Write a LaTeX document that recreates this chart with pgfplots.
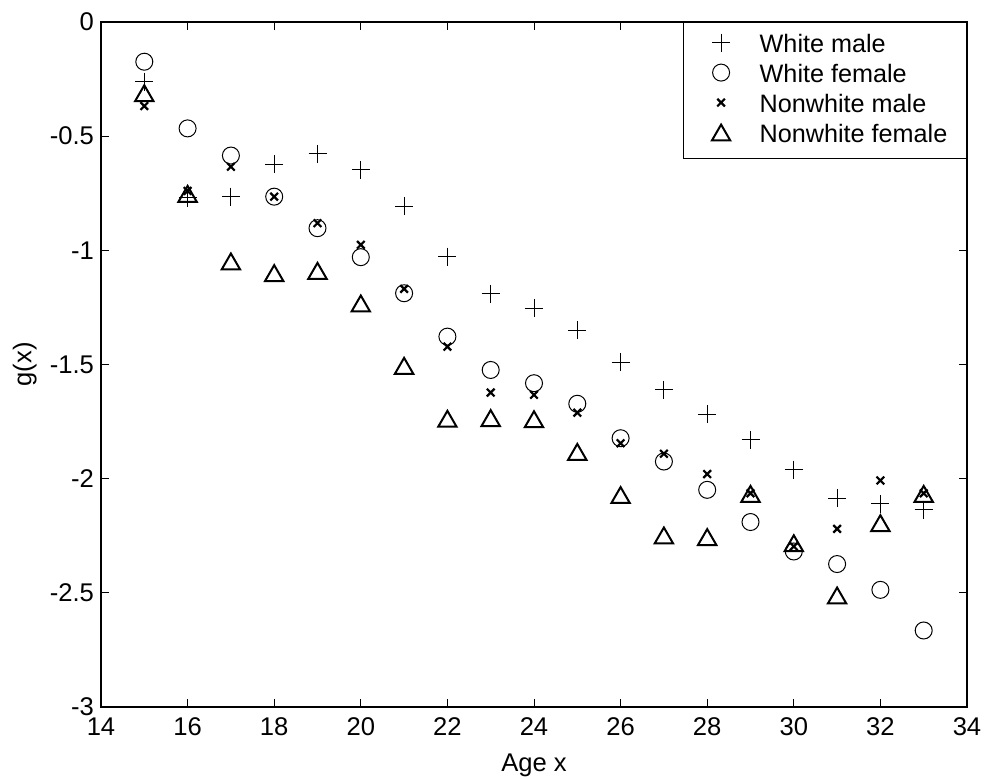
\documentclass[border=0pt]{standalone}
\usepackage{fontspec}
\setmainfont{Liberation Sans}
\usepackage{pgfplots}
\usepackage{pgfplotstable}
\pgfplotsset{compat=1.18}
\pgfplotstableread{
x y
15 -0.261
16 -0.770
17 -0.765
18 -0.622
19 -0.578
20 -0.648
21 -0.806
22 -1.028
23 -1.191
24 -1.254
25 -1.349
26 -1.490
27 -1.611
28 -1.719
29 -1.830
30 -1.961
31 -2.086
32 -2.110
33 -2.137
}\wm
\pgfplotstableread{
x y
15 -0.174
16 -0.466
17 -0.585
18 -0.765
19 -0.903
20 -1.030
21 -1.188
22 -1.378
23 -1.524
24 -1.582
25 -1.672
26 -1.823
27 -1.925
28 -2.049
29 -2.190
30 -2.319
31 -2.374
32 -2.487
33 -2.665
}\wf
\pgfplotstableread{
x y
15 -0.368
16 -0.740
17 -0.634
18 -0.765
19 -0.881
20 -0.976
21 -1.169
22 -1.422
23 -1.623
24 -1.633
25 -1.711
26 -1.845
27 -1.891
28 -1.980
29 -2.064
30 -2.297
31 -2.220
32 -2.008
33 -2.064
}\nm
\pgfplotstableread{
x y
15 -0.312
16 -0.753
17 -1.049
18 -1.100
19 -1.090
20 -1.233
21 -1.506
22 -1.738
23 -1.735
24 -1.740
25 -1.883
26 -2.072
27 -2.249
28 -2.256
29 -2.067
30 -2.283
31 -2.512
32 -2.195
33 -2.067
}\nf
\pgfplotsset{lg/.style={legend image code/.code={\path (0pt,1.5pt) (18pt,1.5pt);\draw[mark repeat=2,mark phase=2,##1] plot coordinates {(0pt,1.5pt)(9pt,1.5pt)(18pt,1.5pt)};}}}
\begin{document}
\begin{tikzpicture}
\begin{axis}[
  name=ax, at={(0,0)}, anchor=south west,
  scale only axis, width=433pt, height=342.5pt,
  xmin=14, xmax=34, ymin=-3, ymax=0,
  xtick={14,16,18,20,22,24,26,28,30,32,34},
  xticklabels={14,16,18,20,22,24,26,28,30,32,34},
  ytick={-3,-2.5,-2,-1.5,-1,-0.5,0},
  yticklabels={-3,-2.5,-2,-1.5,-1,-0.5,0},
  tick align=inside, tick pos=both, major tick length=4pt,
  axis line style={line width=0.6pt},
  every tick/.style={black, line width=0.5pt},
  tick label style={font=\fontsize{12.8}{15}\selectfont},
  xticklabel style={yshift=-2pt},
  label style={font=\fontsize{12.8}{15}\selectfont},
  title style={font=\fontsize{12.8}{15}\selectfont, at={([yshift=8pt]axis description cs:0.5,1)}, anchor=base, inner sep=0pt},
  title={Figure 2: The latent functions of the U.S. cohorts born in 1955},
  xlabel={Age x}, ylabel={g(x)},
  xlabel style={at={([yshift=-32.3pt]axis description cs:0.5,0)}, anchor=base, inner sep=0pt},
  ylabel style={at={([xshift=-32pt]axis description cs:0,0.5)}, anchor=south, inner sep=0pt},
  legend style={at={(1,1)}, anchor=north east, draw=black, line width=0.6pt, fill=white,
    inner xsep=9.5pt, inner ysep=5.5pt, column sep=10pt, row sep=3pt,
    font=\fontsize{12.6}{15}\selectfont,
    nodes={inner sep=0pt, text height=9.3pt, text depth=2.7pt}},
  legend cell align=left,
]
\addplot[only marks, black, mark=+, mark size=4.5pt, mark options={line width=0.5pt}, lg] table {\wm};
\addlegendentry{White male}
\addplot[only marks, black, mark=o, mark size=4.25pt, mark options={line width=0.5pt}, lg] table {\wf};
\addlegendentry{White female}
\addplot[only marks, black, mark=x, mark size=2.7pt, mark options={line width=1.1pt}, lg] table {\nm};
\addlegendentry{Nonwhite male}
\addplot[only marks, black, mark=triangle, mark size=5.3pt, mark options={line width=1pt, yshift=-1.3pt}, lg] table {\nf};
\addlegendentry{Nonwhite female}
\end{axis}
\pgfresetboundingbox
\path[use as bounding box] ([xshift=-50.5pt,yshift=-36pt]ax.south west) rectangle ([xshift=9.5pt,yshift=11pt]ax.north east);
\end{tikzpicture}
\end{document}
